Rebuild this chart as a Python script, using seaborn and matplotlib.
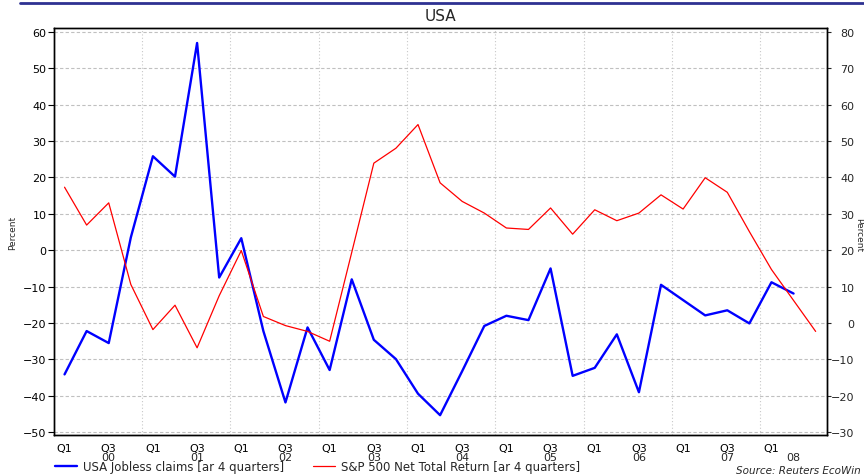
import numpy as np
import pandas as pd
import matplotlib
matplotlib.use('Agg')
import matplotlib.pyplot as plt
import matplotlib.transforms as mtransforms
from matplotlib.lines import Line2D
import seaborn as sns

# quarterly data, 2000 Q1 .. 2008 Q3
years = list(range(2000, 2009))
jobless = [-34.1, -22.2, -25.5, 3.5, 25.8, 20.2, 56.9, -7.5, 3.3, -22.2,
           -41.8, -21.2, -32.9, -8.0, -24.6, -29.9, -39.4, -45.3, -33.2, -20.8,
           -18.0, -19.2, -5.0, -34.5, -32.3, -23.1, -39.0, -9.5, -13.7, -17.9,
           -16.5, -20.1, -8.8, -11.9]
sp500 = [37.3, 26.9, 33.0, 10.6, -1.8, 4.9, -6.8, 7.5, 19.9, 1.8,
         -0.7, -2.3, -5.0, 19.4, 43.9, 48.0, 54.5, 38.5, 33.4, 30.2,
         26.1, 25.7, 31.6, 24.4, 31.1, 28.1, 30.2, 35.2, 31.3, 39.9,
         35.9, 25.1, 14.7, 6.2, -2.3]
jobless_label = 'USA Jobless claims [ar 4 quarters]'
sp500_label = 'S&P 500 Net Total Return [ar 4 quarters]'

quarters = [y + q / 4 + 0.125 for y in years for q in range(4)]
df_j = pd.DataFrame({'t': quarters[:len(jobless)], 'v': jobless})
df_s = pd.DataFrame({'t': quarters[:len(sp500)], 'v': sp500})

sns.set_style('white')
plt.rcParams['font.family'] = ['DejaVu Sans']

fig = plt.figure(figsize=(8.64, 4.77), dpi=100)
ax = fig.add_axes([53.5 / 864, 1 - 436 / 477, (826.7 - 53.5) / 864, (436 - 29.3) / 477])
ax2 = ax.twinx()

sns.lineplot(data=df_j, x='t', y='v', ax=ax, color='#0000ff', linewidth=1.7)
sns.lineplot(data=df_s, x='t', y='v', ax=ax2, color='#ff0000', linewidth=0.9)

ax.set_xlim(2000, 2008.75)
ax.set_ylim(-50.74, 60.93)
ax2.set_ylim(-30.74, 80.93)
ax.set_yticks(range(-50, 61, 10))
ax2.set_yticks(range(-30, 81, 10))

qpos = [y + 0.125 for y in years] + [y + 0.625 for y in years[:-1]]
qlab = ['Q1'] * len(years) + ['Q3'] * (len(years) - 1)
ax.set_xticks(qpos)
ax.set_xticklabels(qlab)
ax.set_xticks(years[1:], minor=True)

ax.grid(False)
ax2.grid(False)
ax.grid(axis='y', which='major', color='#c0c0c0', linestyle=(0, (3, 2)), linewidth=0.8)
ax.grid(axis='x', which='minor', color='#c8c8c8', linestyle=(0, (1, 2)), linewidth=0.8)

ax.tick_params(axis='both', which='major', direction='out', length=4, width=0.8,
               labelsize=8, colors='black', pad=2)
ax.tick_params(axis='y', pad=1)
ax.tick_params(axis='x', which='minor', direction='out', length=6, width=0.8, color='#555555')
ax2.tick_params(axis='y', direction='out', length=3, width=0.8, labelsize=8, pad=17)
for lab in ax2.get_yticklabels():
    lab.set_horizontalalignment('right')

for a in (ax, ax2):
    a.set_xlabel('')
    a.set_ylabel('')
    for s in a.spines.values():
        s.set_linewidth(1.0)
        s.set_color('black')

ax.set_ylabel('Percent', fontsize=6.5, labelpad=4)
fig.text(859 / 864, 1 - 235 / 477, 'Percent', fontsize=6.5, rotation=-90,
         ha='center', va='center')

trans = mtransforms.blended_transform_factory(ax.transData, fig.transFigure)
for y in years[:-1]:
    ax.text(y + 0.625, 1 - 458 / 477, str(y)[2:], transform=trans,
            ha='center', va='center', fontsize=8)
ax.text(2008.375, 1 - 458 / 477, '08', transform=trans, ha='center', va='center', fontsize=8)

ax.set_title('USA', fontsize=11, pad=6)

fig.add_artist(Line2D([20 / 864, 1], [1 - 4 / 477] * 2, color='#2e3192', linewidth=2.0))

handles = [Line2D([], [], color='#0000ff', linewidth=1.7),
           Line2D([], [], color='#ff0000', linewidth=0.9)]
fig.legend(handles, [jobless_label, sp500_label], loc='center left',
           bbox_to_anchor=(55 / 864, 1 - 468 / 477), ncol=2, frameon=False,
           fontsize=8.5, handlelength=1.9, handletextpad=0.5, columnspacing=2.4,
           borderaxespad=0, borderpad=0)
fig.text(861 / 864, 1 - 471 / 477, 'Source: Reuters EcoWin', fontsize=7.5,
         style='italic', ha='right', va='center')

fig.savefig('out.png', dpi=100)
